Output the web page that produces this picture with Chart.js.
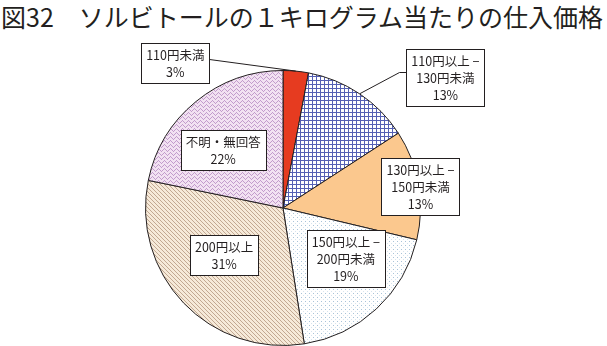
<!DOCTYPE html>
<html lang="ja">
<head>
  <meta charset="UTF-8">
  <title>図32 ソルビトールの１キログラム当たりの仕入価格</title>
  <script src="https://cdn.jsdelivr.net/npm/chart.js"></script>
  <style>
    html, body { margin: 0; padding: 0; background: #fff; }
    .wrap { position: relative; width: 607px; height: 346px; overflow: hidden; }
    .titulo {
      position: absolute; left: 1px; top: 1px;
      font-family: "Noto Sans CJK JP", sans-serif;
      font-size: 25px; line-height: 30px; font-weight: 400;
      color: #231f20; white-space: nowrap; margin: 0;
    }
    canvas { position: absolute; left: 0; top: 0; }
  </style>
</head>
<body>
<div class="wrap">
  <h1 class="titulo">図32　ソルビトールの１キログラム当たりの仕入価格</h1>
  <canvas id="grafico" width="607" height="346"></canvas>
</div>

<script>
  // datos (porcentajes)
  const categorias = [
    ['110円未満'],
    ['110円以上 −', '130円未満'],
    ['130円以上 −', '150円未満'],
    ['150円以上 −', '200円未満'],
    ['200円以上'],
    ['不明・無回答']
  ];
  const porcentajes = [3, 13, 13, 19, 31, 22];

  // tramas de relleno
  const trama = (w, h, fondo, dibujar) => {
    const c = document.createElement('canvas');
    c.width = w; c.height = h;
    const g = c.getContext('2d');
    g.fillStyle = fondo;
    g.fillRect(0, 0, w, h);
    dibujar(g);
    return g.createPattern(c, 'repeat');
  };

  const rellenos = [
    '#e63b20',
    trama(4, 4, '#ffffff', g => {
      g.fillStyle = '#5560b4';
      g.fillRect(0, 0, 4, 1);
      g.fillRect(0, 0, 1, 4);
    }),
    '#fbc88e',
    trama(4, 4, '#ffffff', g => {
      g.fillStyle = '#a9c3d8';
      g.fillRect(1, 1, 1, 1);
      g.fillStyle = '#d6e4ee';
      g.fillRect(3, 3, 1, 1);
    }),
    trama(4, 4, '#f6ead9', g => {
      g.fillStyle = '#c2a892';
      for (let i = 0; i < 4; i++) g.fillRect(i, i, 1, 1);
    }),
    trama(6, 4, '#f2e2f2', g => {
      g.fillStyle = '#c29ccc';
      g.fillRect(0, 2, 1, 1); g.fillRect(1, 1, 1, 1); g.fillRect(2, 0, 1, 1);
      g.fillRect(3, 1, 1, 1); g.fillRect(4, 2, 1, 1); g.fillRect(5, 3, 1, 1);
    })
  ];

  // posicion de cada recuadro respecto al centro, en fracciones del radio
  const recuadros = [
    { pos: [-0.783, -1.054], guia: true, tramo: 0 },
    { pos: [1.181, -0.946], guia: true, tramo: 7 },
    { pos: [1.0, -0.156] },
    { pos: [0.457, 0.366] },
    { pos: [-0.428, 0.341] },
    { pos: [-0.435, -0.424] }
  ];

  const etiquetasCaja = {
    id: 'etiquetasCaja',
    afterDatasetsDraw(chart) {
      const ctx = chart.ctx;
      const meta = chart.getDatasetMeta(0);
      ctx.save();
      ctx.font = '12.5px "Noto Sans CJK JP", sans-serif';
      ctx.textAlign = 'center';
      ctx.textBaseline = 'middle';
      const alto = 17, padX = 5, padY = 3;

      meta.data.forEach((arco, i) => {
        const p = arco.getProps(['x', 'y', 'startAngle', 'endAngle', 'outerRadius'], true);
        const r = p.outerRadius;
        const cfg = recuadros[i];
        const lineas = categorias[i].concat([porcentajes[i] + '%']);
        const ancho = Math.max(...lineas.map(t => ctx.measureText(t).width)) + padX * 2;
        const altoCaja = lineas.length * alto + padY * 2;
        const cx = p.x + cfg.pos[0] * r;
        const cy = p.y + cfg.pos[1] * r;
        const x0 = Math.round(cx - ancho / 2) + 0.5;
        const y0 = Math.round(cy - altoCaja / 2) + 0.5;

        if (cfg.guia) {
          const medio = (p.startAngle + p.endAngle) / 2;
          const ex = p.x + Math.cos(medio) * r;
          const ey = p.y + Math.sin(medio) * r;
          const lado = ex > cx ? x0 + Math.round(ancho) : x0;
          const sy = y0 + Math.round(altoCaja * 0.4);
          ctx.beginPath();
          ctx.strokeStyle = '#231f20';
          ctx.lineWidth = 1;
          ctx.moveTo(lado, sy);
          const dir = ex > cx ? 1 : -1;
          if (cfg.tramo) ctx.lineTo(lado + dir * cfg.tramo, sy);
          ctx.lineTo(ex, ey);
          ctx.stroke();
        }

        ctx.fillStyle = '#ffffff';
        ctx.fillRect(x0, y0, Math.round(ancho), Math.round(altoCaja));
        ctx.strokeStyle = '#231f20';
        ctx.lineWidth = 1;
        ctx.strokeRect(x0, y0, Math.round(ancho), Math.round(altoCaja));

        ctx.fillStyle = '#231f20';
        lineas.forEach((t, k) => {
          ctx.fillText(t, cx, y0 + padY + alto * k + alto / 2);
        });
      });
      ctx.restore();
    }
  };

  new Chart(document.getElementById('grafico'), {
    type: 'pie',
    data: {
      labels: categorias,
      datasets: [{
        data: porcentajes,
        backgroundColor: rellenos,
        borderColor: '#231f20',
        borderWidth: 1
      }]
    },
    options: {
      responsive: false,
      animation: false,
      layout: { padding: { top: 70, left: 145, right: 186, bottom: 0 } },
      plugins: {
        legend: { display: false },
        tooltip: { enabled: false },
        title: { display: false }
      }
    },
    plugins: [etiquetasCaja]
  });
</script>
</body>
</html>
